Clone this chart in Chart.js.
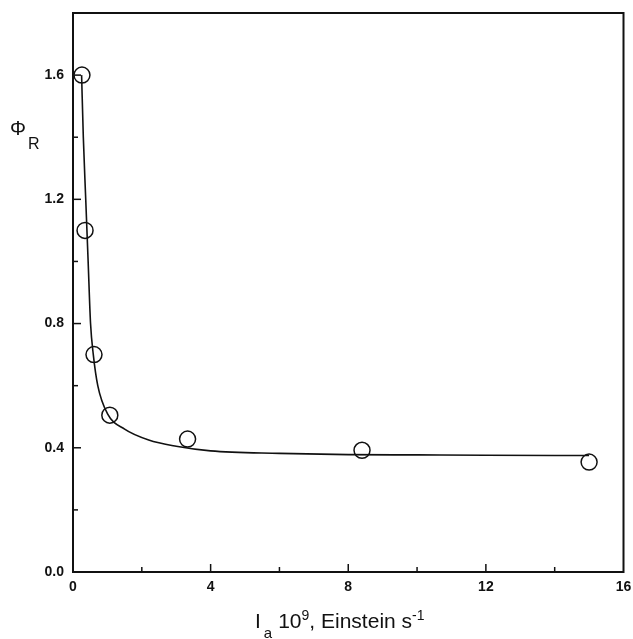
<!DOCTYPE html>
<html>
<head>
<meta charset="utf-8">
<script src="https://cdn.jsdelivr.net/npm/chart.js@4/dist/chart.umd.min.js"></script>
<style>
  html, body { margin: 0; padding: 0; background: #fff; }
  #wrap { position: relative; width: 633px; height: 639px; }
  canvas { position: absolute; left: 0; top: 0; }
  .lbl { position: absolute; font-family: "Liberation Sans", Arial, sans-serif; color: #111; white-space: nowrap; }
  #xtitle { left: 255px; top: 609px; font-size: 21px; }
  #xtitle .sub { position: relative; top: 10px; font-size: 15px; margin-left: 3px; margin-right: 6px; }
  #xtitle sup { font-size: 14px; vertical-align: 0; position: relative; top: -8px; }
  #ytitle { left: 10px; top: 117px; font-size: 20px; }
  #ytitle .sub { position: relative; top: 14px; font-size: 16px; margin-left: 2px; }
</style>
</head>
<body>
<div id="wrap">
  <canvas id="c" width="633" height="639"></canvas>
  <div id="xtitle" class="lbl">I<span class="sub">a</span>10<sup>9</sup>, Einstein s<sup>-1</sup></div>
  <div id="ytitle" class="lbl">Φ<span class="sub">R</span></div>
</div>
<script>
// Measured data points (open circles)
const pointX = [0.26, 0.35, 0.61, 1.07, 3.33, 8.40, 15.0];
const pointY = [1.60, 1.10, 0.70, 0.505, 0.428, 0.392, 0.354];

// Fitted curve
const curveX = [0.25, 0.30, 0.37, 0.44, 0.51, 0.59, 0.72, 1.0, 1.5, 2.2, 3.0, 4.0, 6.0, 8.0, 10.0, 12.0, 15.0];
const curveY = [1.60, 1.40, 1.20, 1.00, 0.80, 0.70, 0.60, 0.51, 0.46, 0.425, 0.405, 0.39, 0.382, 0.378, 0.377, 0.376, 0.375];

// Tick labels
const xTicks = [0, 4, 8, 12, 16];
const yTicks = [0.0, 0.4, 0.8, 1.2, 1.6];
const xMinor = [2, 6, 10, 14];
const yMinor = [0.2, 0.6, 1.0, 1.4];

const curveData = curveX.map((x, i) => ({ x, y: curveY[i] }));
const pointData = pointX.map((x, i) => ({ x, y: pointY[i] }));

const tickFont = { family: '"Liberation Sans", Arial, sans-serif', size: 14, weight: 'bold' };

const frame = {
  id: 'frame',
  afterDatasetsDraw(chart) {
    const { ctx, chartArea: a, scales: { x, y } } = chart;
    ctx.save();
    ctx.strokeStyle = '#111';
    ctx.lineWidth = 2;
    ctx.strokeRect(a.left, a.top, a.right - a.left, a.bottom - a.top);
    ctx.lineWidth = 1.5;
    const tick = (vals, len) => {
      vals.forEach(v => {
        const px = x.getPixelForValue(v);
        if (v > x.min && v < x.max) {
          ctx.beginPath(); ctx.moveTo(px, a.bottom); ctx.lineTo(px, a.bottom - len); ctx.stroke();
        }
      });
    };
    const ytick = (vals, len) => {
      vals.forEach(v => {
        const py = y.getPixelForValue(v);
        if (v > y.min && v < y.max) {
          ctx.beginPath(); ctx.moveTo(a.left, py); ctx.lineTo(a.left + len, py); ctx.stroke();
        }
      });
    };
    tick(xTicks, 8); tick(xMinor, 5);
    ytick(yTicks, 8); ytick(yMinor, 5);
    ctx.restore();
  }
};

new Chart(document.getElementById('c'), {
  type: 'scatter',
  data: {
    datasets: [
      {
        data: curveData, showLine: true, borderColor: '#111', borderWidth: 1.6,
        pointRadius: 0, tension: 0.4, cubicInterpolationMode: 'monotone', fill: false
      },
      {
        data: pointData, showLine: false, pointRadius: 8, pointHoverRadius: 8,
        pointBackgroundColor: 'rgba(255,255,255,0)', pointBorderColor: '#111', pointBorderWidth: 1.5
      }
    ]
  },
  options: {
    responsive: false, animation: false,
    layout: { padding: { top: 13, right: 8, left: 0, bottom: 0 } },
    plugins: { legend: { display: false }, tooltip: { enabled: false } },
    scales: {
      x: {
        type: 'linear', min: 0, max: 16,
        afterBuildTicks: s => { s.ticks = xTicks.map(v => ({ value: v })); },
        afterFit: s => { s.height = 67; s.paddingLeft = 0; s.paddingRight = 0; },
        grid: { display: false, drawTicks: false },
        border: { display: false },
        ticks: { font: tickFont, color: '#111', padding: 7, callback: v => String(v), maxRotation: 0 }
      },
      y: {
        type: 'linear', min: 0, max: 1.8,
        afterBuildTicks: s => { s.ticks = yTicks.map(v => ({ value: v })); },
        afterFit: s => { s.width = 73; s.paddingTop = 0; s.paddingBottom = 0; },
        grid: { display: false, drawTicks: false },
        border: { display: false },
        ticks: { font: tickFont, color: '#111', padding: 9, callback: v => Number(v).toFixed(1) }
      }
    }
  },
  plugins: [frame]
});
</script>
</body>
</html>
